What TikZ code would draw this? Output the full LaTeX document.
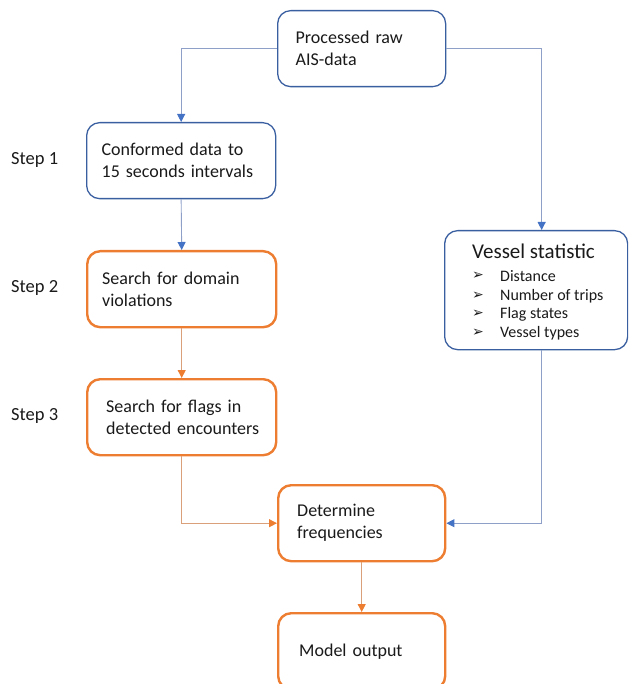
\documentclass[tikz,border=0pt]{standalone}
\usepackage{fontspec}
\setmainfont{Carlito}
\newfontfamily\dejavu{DejaVu Sans}
\usetikzlibrary{arrows.meta,calc}
\hyphenpenalty=10000
\exhyphenpenalty=10000
\hbadness=10000
\hfuzz=50pt
\definecolor{boxblue}{HTML}{3A5FA0}
\definecolor{boxorange}{HTML}{ED7D31}
\definecolor{lineblue}{HTML}{8FA0C8}
\definecolor{tipblue}{HTML}{4472C4}
\definecolor{lineorange}{HTML}{D9A07A}
\definecolor{txt}{HTML}{1A1A1A}
\tikzset{
  x=1pt,y=-1pt,
  every node/.style={text=txt},
  flowbox/.style={rounded corners=13pt,fill=white,align=left,anchor=north west,
    minimum height=76pt,inner ysep=0pt,font=\fontsize{18}{22}\selectfont},
  bluebox/.style={flowbox,draw=boxblue,line width=1.3pt},
  orangebox/.style={flowbox,draw=boxorange,line width=2.4pt},
  blueline/.style={draw=lineblue,line width=0.9pt,-{Triangle[width=8pt,length=8pt,color=tipblue]}},
  orangeline/.style={draw=lineorange,line width=0.9pt,-{Triangle[width=8pt,length=8pt,color=boxorange]}},
  steplabel/.style={anchor=west,inner sep=0pt,font=\fontsize{18.5}{20}\selectfont},
  itemtext/.style={anchor=west,inner sep=0pt,font=\fontsize{16}{18}\selectfont},
  bullettext/.style={anchor=west,inner sep=0pt,font=\dejavu\fontsize{14}{16}\selectfont},
}
\begin{document}
\begin{tikzpicture}
\useasboundingbox (0,0) rectangle (628,684);
\clip (0,0) rectangle (628,684);
% boxes
\node[bluebox,inner xsep=18pt,text width=132pt] (pr) at (277,10) {Processed raw\\AIS-data};
\node[bluebox,inner xsep=15pt,text width=159pt] (cf) at (86,122) {Conformed data to\\15 seconds intervals};
\node[orangebox,inner xsep=15pt,text width=159pt] (sd) at (86,250) {Search for domain\\violations};
\node[orangebox,inner xsep=19pt,text width=151pt] (sf) at (86,378) {Search for flags in\\\mbox{detected encounters}};
\node[orangebox,inner xsep=19pt,text width=129pt] (df) at (277,484) {Determine\\frequencies};
\node[orangebox,inner xsep=21pt,text width=125pt] (mo) at (277,612) {Model output};
\node[bluebox,minimum width=183pt,minimum height=119pt,inner sep=0pt] (vs) at (444,230) {};
% vessel statistic contents
\node[anchor=west,inner sep=0pt,font=\fontsize{21}{24}\selectfont] (vst) at (472,251) {Vessel statistic};
\node[bullettext] (b1) at (472,276) {➢};
\node[bullettext] (b2) at (472,296) {➢};
\node[bullettext] (b3) at (472,314) {➢};
\node[bullettext] (b4) at (472,333) {➢};
\node[itemtext] (i1) at (500,276) {Distance};
\node[itemtext] (i2) at (500,296) {Number of trips};
\node[itemtext] (i3) at (500,314) {Flag states};
\node[itemtext] (i4) at (500,333) {Vessel types};
% step labels
\node[steplabel] (s1) at (11,160) {Step 1};
\node[steplabel] (s2) at (11,288) {Step 2};
\node[steplabel] (s3) at (11,416) {Step 3};
% connectors
\coordinate (vsin) at ($(vs.north)+(5.5,0)$);
\coordinate (vsout) at ($(vs.south)+(5.5,0)$);
\draw[blueline] (pr.west) -| (cf.north);
\draw[blueline] (pr.east) -| (vsin);
\draw[blueline] (cf.south) -- (sd.north);
\draw[orangeline] (sd.south) -- (sf.north);
\draw[orangeline] (sf.south) |- (df.west);
\draw[blueline] (vsout) |- (df.east);
\draw[orangeline] (df.south) -- (mo.north);
\end{tikzpicture}
\end{document}
